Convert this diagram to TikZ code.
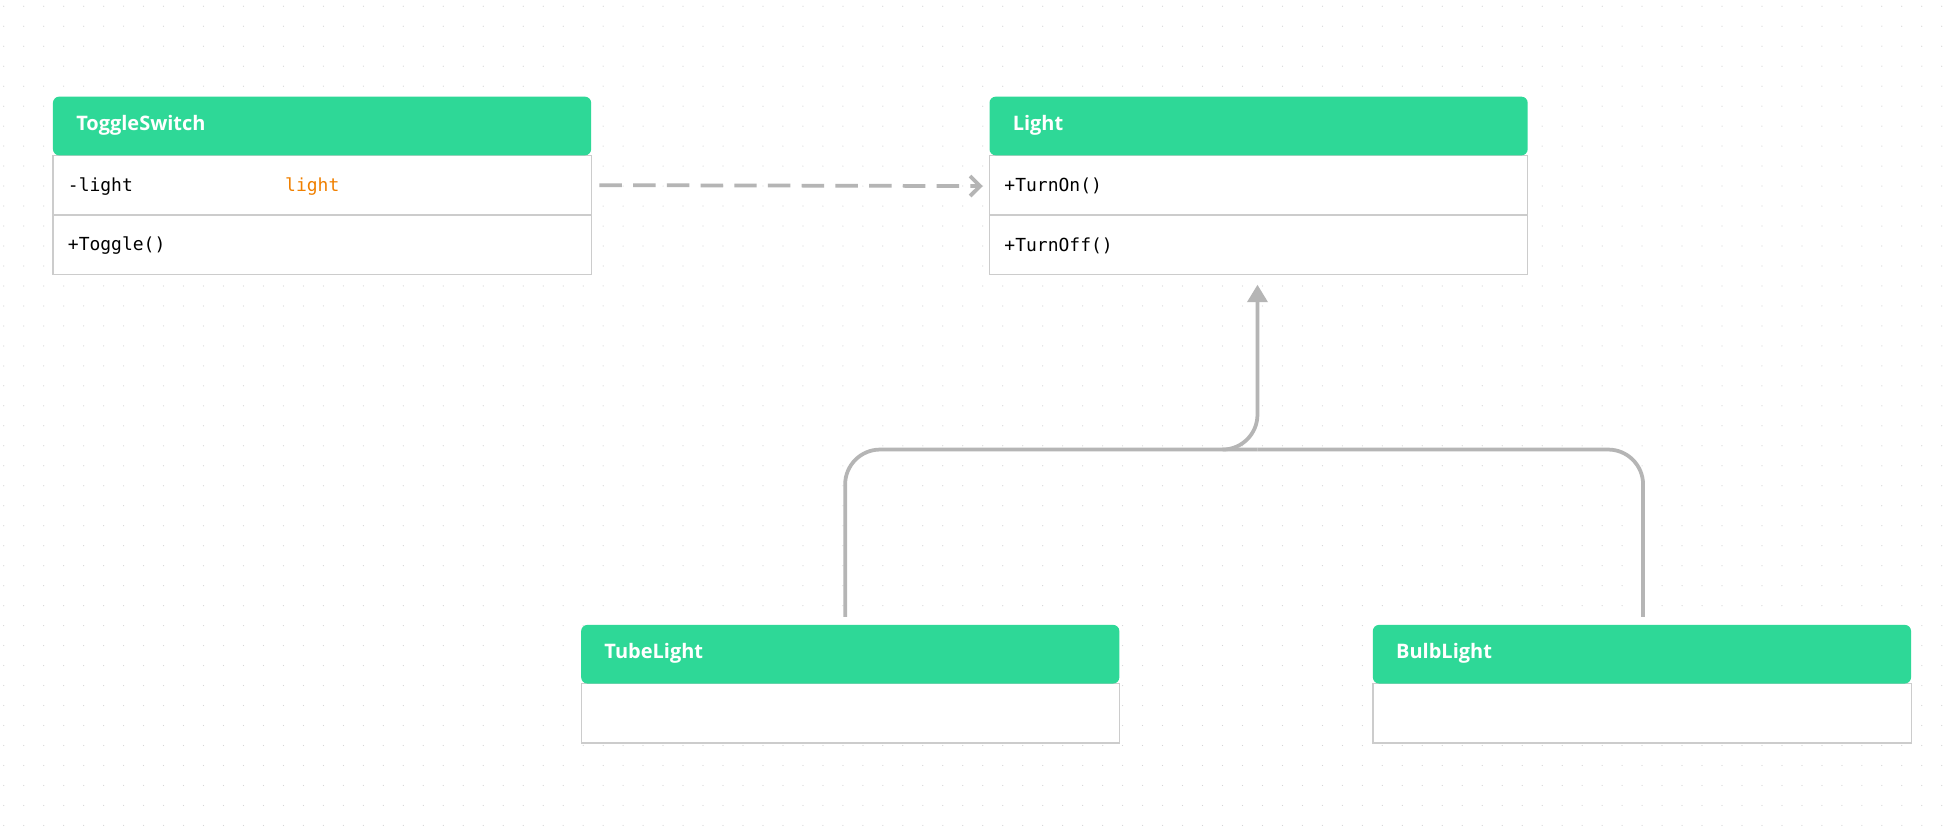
\documentclass[tikz,border=0pt]{standalone}
\usepackage{fontspec}
\setmainfont{Open Sans}
\newfontfamily\monofont{DejaVu Sans Mono}
\usetikzlibrary{arrows.meta,positioning}
\definecolor{hdgreen}{HTML}{2ED897}
\definecolor{lngray}{HTML}{B5B5B5}
\definecolor{bxgray}{HTML}{CCCCCC}
\definecolor{dotgray}{HTML}{D6D6D6}
\definecolor{attrorange}{HTML}{F08000}
\tikzset{
  head/.style={fill=hdgreen,rounded corners=2.5pt,minimum width=215.5pt,minimum height=23.5pt,
    inner sep=0pt,text=white,font=\bfseries\fontsize{8}{9}\selectfont},
  row/.style={draw=bxgray,fill=white,minimum width=215.5pt,minimum height=23.75pt,inner sep=0pt,
    line width=0.5pt},
  member/.style={font=\monofont\fontsize{7.2}{9}\selectfont,inner sep=0pt,anchor=west},
  link/.style={draw=lngray,line width=1.5pt}
}
\begin{document}
\begin{tikzpicture}[x=0.5pt,y=-0.5pt]
\useasboundingbox (0,0) rectangle (1568,670);
\fill[white] (0,0) rectangle (1568,670);
% dotted grid
\foreach \i in {0,...,97}
  \foreach \j in {0,...,41}
    \fill[dotgray] (\i*16+3,\j*16+5) circle (0.5);
% ToggleSwitch
\node[row,anchor=north west] (tsattr) at (42,124) {};
\node[row,anchor=north west] (tsop) at (42,172) {};
\node[head,anchor=north west] (ts) at (42,77) {};
\node[anchor=west,text=white,font=\bfseries\fontsize{8}{9}\selectfont] (tsname) at (54,100.5) {ToggleSwitch};
\node[member] (tslight) at (54,149) {-light};
\node[member,text=attrorange] (tstype) at (228,149) {light};
\node[member] (tstoggle) at (54,197) {+Toggle()};
% Light
\node[row,anchor=north west] (lton) at (792,124) {};
\node[row,anchor=north west] (ltoff) at (792,172) {};
\node[head,anchor=north west] (lt) at (792,77) {};
\node[anchor=west,text=white,font=\bfseries\fontsize{8}{9}\selectfont] (ltname) at (804,100.5) {Light};
\node[member] (turnon) at (804,149) {+TurnOn()};
\node[member] (turnoff) at (804,197) {+TurnOff()};
% TubeLight
\node[row,anchor=north west] (tlbody) at (465,547) {};
\node[head,anchor=north west] (tl) at (465,500) {};
\node[anchor=west,text=white,font=\bfseries\fontsize{8}{9}\selectfont] (tlname) at (477,523.5) {TubeLight};
% BulbLight
\node[row,anchor=north west] (blbody) at (1099,547) {};
\node[head,anchor=north west] (bl) at (1099,500) {};
\node[anchor=west,text=white,font=\bfseries\fontsize{8}{9}\selectfont] (blname) at (1111,523.5) {BulbLight};
% connectors
\coordinate (dashend) at (787,149);
\coordinate (arrowtip) at (1007,228);
\draw[link,dash pattern=on 9pt off 4.5pt,-{Straight Barb[length=4pt,width=8pt]}]
  ([xshift=3pt]tsattr.east) -- (dashend);
\draw[link,rounded corners=14pt] ([xshift=-110pt,yshift=3pt]tl.north east) |- (1007,360);
\draw[link,rounded corners=14pt] ([xshift=-107.5pt,yshift=3pt]bl.north east) |- (1007,360);
\draw[link,rounded corners=14pt,-{Triangle[length=7pt,width=8pt]}] (980,360) -| (arrowtip);
\end{tikzpicture}
\end{document}
